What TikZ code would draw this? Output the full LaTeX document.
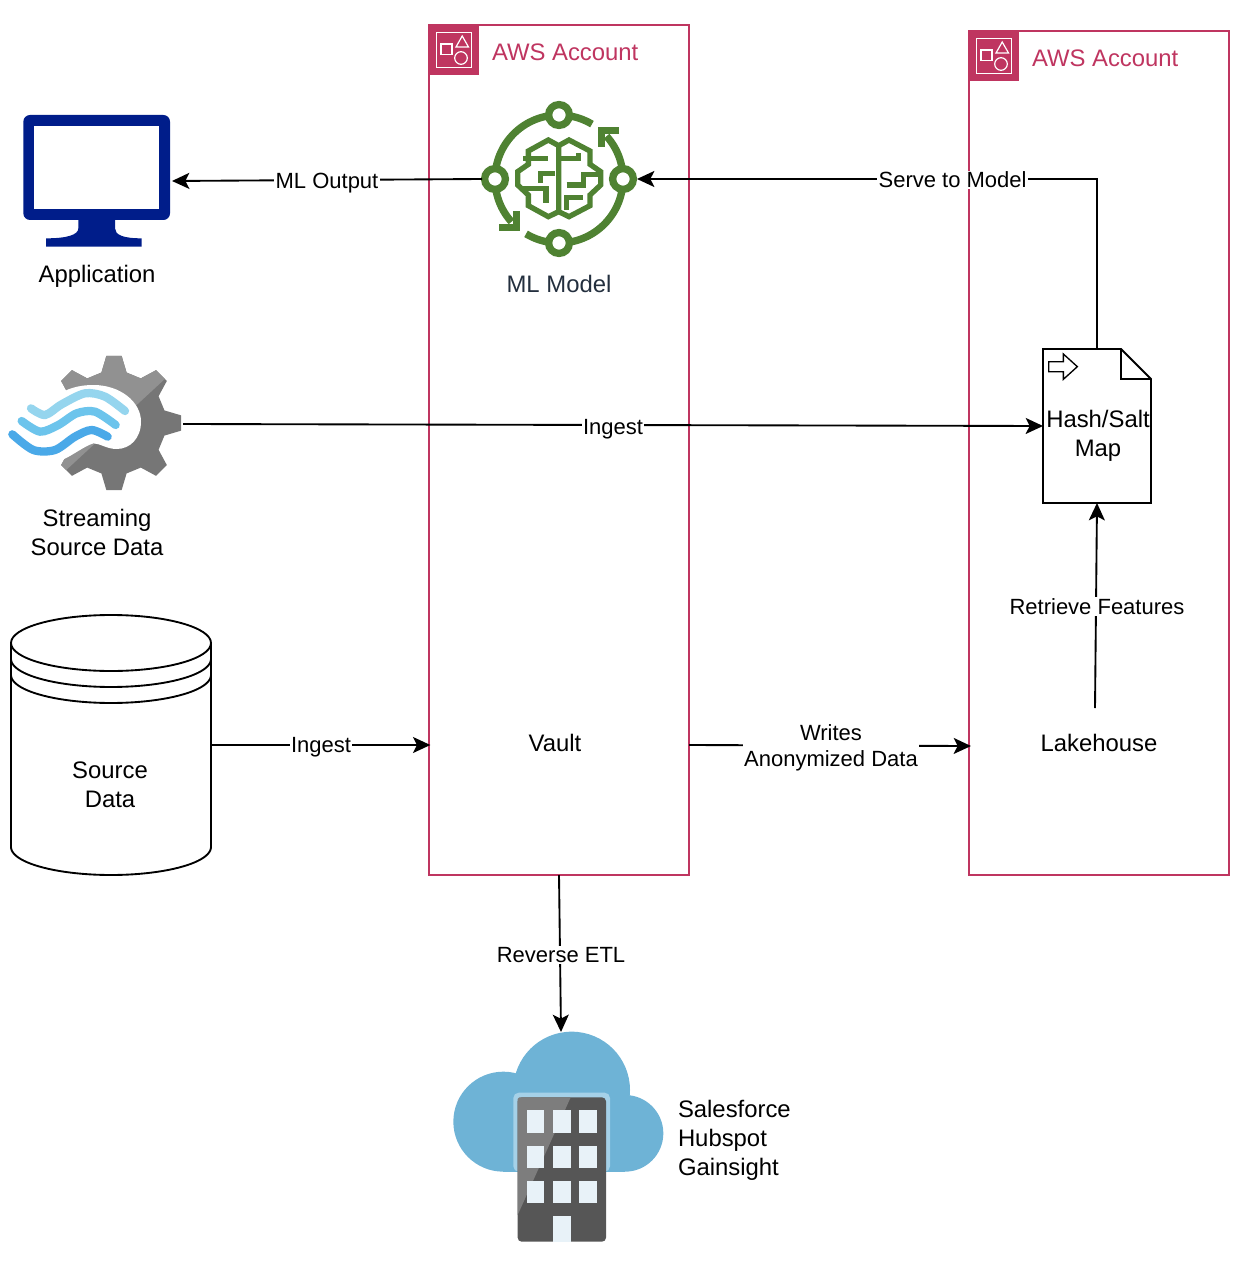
\documentclass[tikz,border=0pt]{standalone}
\usepackage{fontspec}
\setmainfont{Liberation Sans}
\usetikzlibrary{arrows.meta}
\definecolor{acctred}{HTML}{BF3560}
\definecolor{mlgreen}{HTML}{4F8232}
\definecolor{mlnavy}{HTML}{232F3E}
\definecolor{appblue}{HTML}{001D8A}
\definecolor{geardark}{HTML}{767676}
\definecolor{gearlight}{HTML}{919191}
\definecolor{waveA}{HTML}{95D5EE}
\definecolor{waveB}{HTML}{6CC4EC}
\definecolor{waveC}{HTML}{4AA9E8}
\definecolor{cloudblue}{HTML}{6EB3D6}
\definecolor{cloudrim}{HTML}{A5D1E8}
\definecolor{towerdark}{HTML}{565656}
\definecolor{towerlight}{HTML}{7D7D7D}
\definecolor{towerglass}{HTML}{E8F2F8}
\tikzset{
  txt/.style={font=\fontsize{17.9}{21.75}\selectfont,align=center,inner sep=0,outer sep=0},
  slot/.style={inner sep=0,outer sep=0,minimum width=#1},
  account/.style={draw=acctred,line width=1.5pt,inner sep=0,outer sep=0,minimum width=195pt},
  flow/.style={line width=1.4pt,-{Stealth[length=13pt,width=12pt,inset=3pt]}},
  flowlabel/.style={font=\fontsize{16.5}{19.5}\selectfont,align=center,outer sep=0,fill=white,inner sep=1pt},
  outline/.style={line width=1.4pt},
  awsicon/.pic={
    \fill[acctred] (0,0) rectangle (50,50);
    \begin{scope}[draw=white,line width=0.9pt]
      \draw (7.7,7.3) rectangle (42.7,42.3);
      \draw (12,19) rectangle (23,29.5);
      \draw (27,22) -- (39.5,22) -- (33.2,11) -- cycle;
      \draw (32,33) circle (6.3);
    \end{scope}
  }
}
\begin{document}
\begin{tikzpicture}[x=0.75pt,y=-0.75pt]
  \useasboundingbox (0,0) rectangle (1252,1262);
  % accounts
  \node[account,minimum height=637.5pt] (acctA) at (559,450) {};
  \node[account,minimum height=633pt] (acctB) at (1099,453) {};
  \pic at (429,25) {awsicon};
  \pic at (969,31) {awsicon};
  \node[txt,anchor=west,text=acctred] (acctAname) at (492,52) {AWS Account};
  \node[txt,anchor=west,text=acctred] (acctBname) at (1032,58) {AWS Account};

  % application
  \node[slot=112.5pt,minimum height=99pt] (app) at (97,181) {};
  \begin{scope}[shift={(10,105)},scale=1/3]
    \fill[appblue,rounded corners=5pt] (40,30) rectangle (480,345);
    \fill[white] (73,63) rectangle (447,312);
    \fill[appblue] (205,340) -- (205,370) .. controls (205,390) and (170,400) .. (108,400)
      -- (108,425) -- (395,425) -- (395,400) .. controls (340,400) and (315,390) .. (315,370) -- (315,340) -- cycle;
  \end{scope}
  \node[txt] (applabel) at (97,276) {Application};

  % model
  \node[circle,inner sep=0,outer sep=0,minimum size=116.25pt] (model) at (559.5,179) {};
  \begin{scope}[mlgreen,line width=5.5pt]
    \draw plot[domain=-180:-59,samples=40] ({559+64*cos(\x)},{179+64*sin(\x)});
    \draw plot[domain=0:121,samples=40] ({559+64*cos(\x)},{179+64*sin(\x)});
    \draw plot[domain=-42:0,samples=20] ({559+64*cos(\x)},{179+64*sin(\x)});
    \draw plot[domain=138:180,samples=20] ({559+64*cos(\x)},{179+64*sin(\x)});
    \draw (619,130.5) -- (601.5,130.5) -- (601.5,147);
    \draw (499,227.5) -- (516.5,227.5) -- (516.5,211);
    \foreach \cx/\cy in {495/179,623/179,559/115,559/243}
      \draw[fill=white] (\cx,\cy) circle (10.4);
  \end{scope}
  \begin{scope}[shift={(420,15)},scale=1/3,draw=mlgreen,line width=4pt]
    \draw (416,590) -- (416,392) -- (385,375) -- (325,408) -- (325,448) -- (293,470) -- (293,510) -- (325,540) -- (325,572) -- (385,605) -- (416,590)
      -- (447,605) -- (510,572) -- (510,540) -- (542,510) -- (542,470) -- (510,448) -- (510,408) -- (447,375) -- (416,392);
    \draw (310,430) -- (385,430);
    \draw (405,475) -- (362,475) -- (362,505);
    \draw (300,520) -- (378,520) -- (378,565);
    \draw (416,430) -- (475,430) -- (475,415);
    \draw (440,510) -- (490,510) -- (490,478) -- (535,478);
    \draw (440,585) -- (440,548) -- (490,548);
  \end{scope}
  \node[txt,text=mlnavy] (modellabel) at (559,284) {ML Model};

  % streaming source
  \node[slot=130.5pt,minimum height=100.5pt] (stream) at (96,424) {};
  \begin{scope}[shift={(114,423)}]
    \fill[geardark] (-14:52) \foreach \a in {0,45,...,315} { -- (\a-14:52) -- (\a-6.5:67.5) -- (\a+6.5:67.5) -- (\a+14:52) } -- cycle;
  \end{scope}
  \begin{scope}
    \clip (200,346.5) -- (30,503.5) -- (0,503.5) -- (0,340) -- (200,340) -- cycle;
    \begin{scope}[shift={(114,423)}]
      \fill[gearlight] (-14:52) \foreach \a in {0,45,...,315} { -- (\a-14:52) -- (\a-6.5:67.5) -- (\a+6.5:67.5) -- (\a+14:52) } -- cycle;
    \end{scope}
  \end{scope}
  \begin{scope}[shift={(0,340)},scale=1/3]
    \fill[white] (0,160) -- (180,160) .. controls (215,140) and (250,135) .. (280,135)
      .. controls (360,135) and (423,185) .. (423,245) .. controls (423,295) and (390,327) .. (350,327)
      .. controls (320,327) and (300,310) .. (280,310) .. controls (250,320) and (220,345) .. (190,358) -- (0,358) -- cycle;
  \end{scope}
  \begin{scope}[shift={(5,375)},scale=1/3,line width=6.2pt,line cap=round]
    \draw[waveA] plot[smooth] coordinates {(78,100) (120,120) (170,88) (240,55) (300,65) (360,108)};
    \draw[waveB] plot[smooth] coordinates {(50,138) (105,170) (160,150) (215,115) (270,110) (332,150)};
    \draw[waveC] plot[smooth] coordinates {(22,178) (85,225) (150,225) (210,185) (260,165) (308,185)};
  \end{scope}
  \node[txt] (streamlabel) at (97,532) {Streaming\\Source Data};

  % source data
  \node[slot=150pt,minimum height=195pt] (srcdata) at (111,745) {};
  \draw[outline] (111,643) ellipse [x radius=100,y radius=28];
  \draw[outline] (11,643) -- (11,847) plot[domain=180:0,samples=50] ({111+100*cos(\x)},{847+28*sin(\x)}) -- (211,643);
  \draw[outline] plot[domain=180:0,samples=50] ({111+100*cos(\x)},{659+28*sin(\x)});
  \draw[outline] plot[domain=180:0,samples=50] ({111+100*cos(\x)},{675+28*sin(\x)});
  \node[txt] (srclabel) at (110,785) {Source\\Data};

  % vault and lakehouse
  \node[slot=195pt,minimum height=45pt] (vault) at (559,745) {};
  \node[txt] (vaultlabel) at (555,743) {Vault};
  \node[slot=195pt,minimum height=45pt] (lake) at (1099,746) {};
  \node[txt] (lakelabel) at (1099,743) {Lakehouse};
  \coordinate (lakeout) at (1095,708);

  % hash map
  \node[slot=81pt,minimum height=115.5pt] (hash) at (1097,426) {};
  \draw[outline,fill=white,line join=miter] (1043,349) -- (1121,349) -- (1151,379) -- (1151,503) -- (1043,503) -- cycle;
  \draw[outline] (1121,349) -- (1121,379) -- (1151,379);
  \begin{scope}[shift={(1030,340)},scale=1/3]
    \draw[line width=1pt] (56,65) -- (100,65) -- (100,42) -- (142,80) -- (100,118) -- (100,95) -- (56,95) -- cycle;
  \end{scope}
  \node[txt] (hashlabel) at (1098,436) {Hash/Salt\\Map};

  % crm cloud
  \node[slot=157.5pt,minimum height=157.5pt] (cloud) at (561,1137) {};
  \begin{scope}[shift={(440,1020)},scale=1/3]
    \fill[cloudblue] (190,305) circle (150);
    \fill[cloudblue] (395,210) circle (175);
    \fill[cloudblue] (555,340) circle (115);
    \fill[cloudblue] (190,300) rectangle (555,455);
    \fill[cloudrim,rounded corners=4pt] (220,218) rectangle (510,455);
    \fill[towerdark,rounded corners=3pt] (233,232) rectangle (498,665);
    \fill[towerlight] (238,232) -- (392,232) -- (233,585) -- (233,237) -- cycle;
    \foreach \wy/\wh in {270/338,377/443,482/548}
      \foreach \wx/\ww in {260/313,340/392,418/471}
        \fill[towerglass] (\wx,\wy) rectangle (\ww,\wh);
    \fill[towerglass] (340,587) rectangle (392,665);
  \end{scope}
  \node[txt,anchor=west,align=left] (cloudlabel) at (678,1140.5) {Salesforce\\Hubspot\\Gainsight};

  % connectors
  \draw[flow] (model.west) -- (app.east) node[flowlabel,midway,yshift=-2pt] (mloutlabel) {ML Output};
  \draw[flow] (hash.north) |- (model.east) node[flowlabel,pos=0.657,yshift=-0.75pt] (servelabel) {Serve to Model};
  \draw[flow] (stream.east) -- (hash.west) node[flowlabel,midway,yshift=-3pt] (ingestA) {Ingest};
  \draw[flow,shorten >=-1pt] (srcdata.east) -- (vault.west) node[flowlabel,pos=0.505,yshift=-1.5pt] (ingestB) {Ingest};
  \draw[flow,shorten >=-1.5pt] (vault.east) -- (lake.west) node[flowlabel,pos=0.507,yshift=-1.5pt] (writeslabel) {Writes\\Anonymized Data};
  \draw[flow] (lakeout) -- (hash.south) node[flowlabel,pos=0.49,xshift=0.75pt,yshift=0.75pt] (retrievelabel) {Retrieve Features};
  \draw[flow] (acctA.south) -- (cloud.north) node[flowlabel,pos=0.51,xshift=0.75pt] (etllabel) {Reverse ETL};
\end{tikzpicture}
\end{document}
